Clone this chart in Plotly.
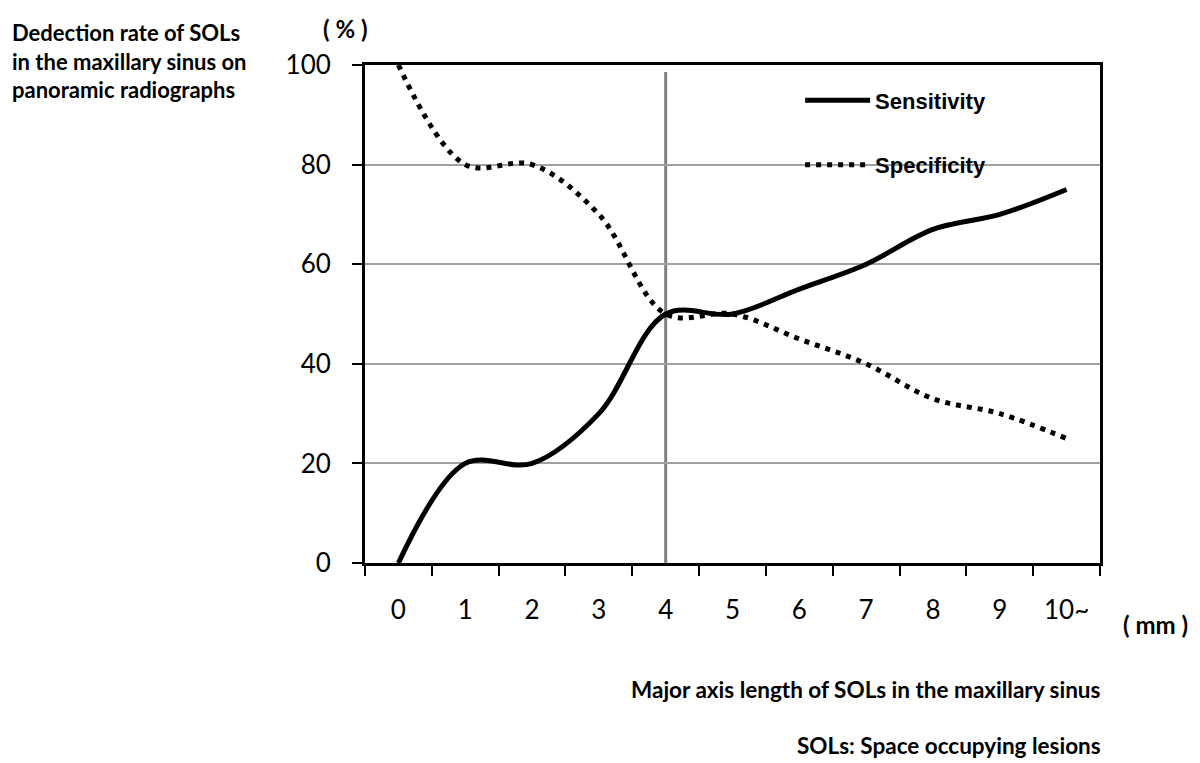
import plotly.graph_objects as go

# category labels on the x axis (mm)
sizes = ["0", "1", "2", "3", "4", "5", "6", "7", "8", "9", "10~"]

# detection rates (%)
sensitivity = [0, 20, 20, 30, 50, 50, 55, 60, 67, 70, 75]
specificity = [100, 80, 80, 70, 50, 50, 45, 40, 33, 30, 25]

cutoff = "4"

tick_font = dict(family="Lato, Open Sans, sans-serif", size=26, color="black")
label_font = dict(family="Lato, Open Sans, sans-serif", size=22.5, color="black", weight="bold")


fig = go.Figure()

fig.add_trace(go.Scatter(
    x=sizes, y=sensitivity, name="Sensitivity", mode="lines",
    line=dict(color="black", width=5, shape="spline", smoothing=1.0),
    legendgroup="a",
))
fig.add_trace(go.Scatter(
    x=sizes, y=specificity, name="Specificity", mode="lines",
    line=dict(color="black", width=5, dash="5px,6px", shape="spline", smoothing=1.0),
    legendgroup="b",
))

# cut-off marker at 4 mm
fig.add_shape(
    type="line", xref="x", yref="y", x0=cutoff, x1=cutoff, y0=-1, y1=98.6,
    line=dict(color="#808080", width=3), layer="below",
)

fig.update_xaxes(
    type="category", range=[-0.5, 10.5],
    showline=True, linecolor="black", linewidth=3, mirror=True,
    ticks="outside", tickson="boundaries", ticklen=10, tickwidth=2, tickcolor="black",
    tickfont=tick_font, ticklabelstandoff=22, showgrid=False,
)
fig.update_yaxes(
    range=[0, 100], tickvals=[0, 20, 40, 60, 80, 100],
    showline=True, linecolor="black", linewidth=3, mirror=True,
    ticks="outside", ticklen=10, tickwidth=2, tickcolor="black",
    tickfont=tick_font, ticklabelstandoff=16,
    showgrid=True, gridcolor="#a0a0a0", gridwidth=2, zeroline=False,
)

annotations = [
    dict(text="Dedection rate of SOLs<br>in the maxillary sinus on<br>panoramic radiographs",
         x=-0.483, y=1.096, xanchor="left", yanchor="top", align="left",
         font=dict(label_font, size=22)),
    dict(text="( % )", x=-0.027, y=1.074, xanchor="center", yanchor="middle",
         font=dict(label_font, size=24)),
    dict(text="( mm )", x=1.075, y=-0.124, xanchor="center", yanchor="middle",
         font=dict(label_font, size=24)),
    dict(text="Major axis length of SOLs in the maxillary sinus", x=1.004, y=-0.255,
         xanchor="right", yanchor="middle", font=label_font),
    dict(text="SOLs: Space occupying lesions", x=1.004, y=-0.3655,
         xanchor="right", yanchor="middle", font=label_font),
]
for a in annotations:
    a.update(xref="paper", yref="paper", showarrow=False)

# the page adds an 8px body margin, so margins are offset to keep the plot in place
fig.update_layout(
    width=1200, height=763,
    margin=dict(l=357, r=108, t=57, b=208),
    paper_bgcolor="white", plot_bgcolor="white",
    annotations=annotations,
    legend=dict(
        x=0.592, y=0.971, xanchor="left", yanchor="top",
        bgcolor="rgba(0,0,0,0)", itemwidth=65, tracegroupgap=33,
        font=dict(family="Liberation Sans, Arial", size=22,
                  color="black", weight="bold"),
    ),
)

fig.write_html("out.html")
